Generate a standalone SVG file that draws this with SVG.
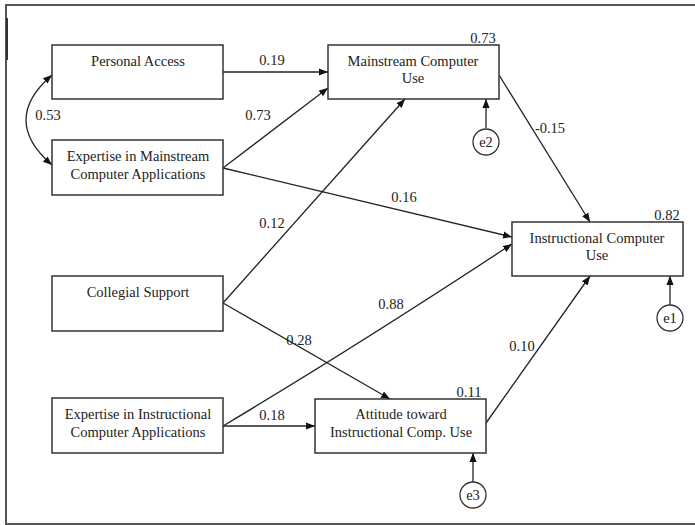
<svg xmlns="http://www.w3.org/2000/svg" width="695" height="525" viewBox="0 0 695 525">
<defs>
<marker id="ah" viewBox="0 0 10 10" refX="10" refY="5" markerWidth="9" markerHeight="9" markerUnits="userSpaceOnUse" orient="auto-start-reverse">
<path d="M0,1 L10,5 L0,9 Z" fill="#111"/>
</marker>
<style>
.box{fill:#fff;stroke:#333;stroke-width:1.5}
.c{fill:#fff;stroke:#333;stroke-width:1.3}
text{font-family:'Liberation Serif','Times New Roman','DejaVu Serif',serif;font-size:14.5px;fill:#222;text-anchor:middle}
.e{stroke:#222;stroke-width:1.3;fill:none;marker-end:url(#ah)}
.frame{stroke:#555;stroke-width:2;fill:none}
</style>
</defs>
<rect width="695" height="525" fill="#fff"/>
<g id="frame">
<path class="frame" d="M695,5 H6 V524 H695"/>
<line x1="7" y1="18" x2="7" y2="60" stroke="#333" stroke-width="2"/>
</g>
<g id="connectors">
<line class="e" x1="223" y1="72" x2="328" y2="72"/>
<line class="e" x1="223" y1="168" x2="328" y2="88"/>
<line class="e" x1="223" y1="168" x2="512" y2="237"/>
<line class="e" x1="223" y1="303" x2="405" y2="99"/>
<line class="e" x1="223" y1="303" x2="390" y2="399"/>
<path class="e" d="M223,426 Q360,344 512,244"/>
<line class="e" x1="223" y1="426" x2="315" y2="426"/>
<line class="e" x1="499" y1="75" x2="590" y2="222"/>
<line class="e" x1="486" y1="423" x2="590" y2="276"/>
<path class="e" d="M52,75 Q0,120 52,165" style="marker-start:url(#ah)"/>
<line class="e" x1="486" y1="128" x2="486" y2="99"/>
<line class="e" x1="670" y1="305" x2="670" y2="276"/>
<line class="e" x1="473" y1="482" x2="473" y2="453"/>
</g>
<g id="labels" font-family="Liberation Serif, serif">
<text x="272" y="65">0.19</text>
<text x="48" y="120">0.53</text>
<text x="258" y="120">0.73</text>
<text x="272" y="228">0.12</text>
<text x="550" y="133">-0.15</text>
<text x="404" y="202">0.16</text>
<text x="299" y="345">0.28</text>
<text x="272" y="420">0.18</text>
<text x="391" y="309">0.88</text>
<text x="522" y="351">0.10</text>
<text x="483" y="43">0.73</text>
<text x="667" y="220">0.82</text>
<text x="469" y="397">0.11</text>
</g>
<g id="personal-access">
<rect class="box" x="52" y="45" width="171" height="54"/>
<text x="138" y="66">Personal Access</text>
</g>
<g id="expertise-mainstream">
<rect class="box" x="52" y="140" width="171" height="55"/>
<text x="138" y="161">Expertise in Mainstream</text>
<text x="138" y="179">Computer Applications</text>
</g>
<g id="collegial-support">
<rect class="box" x="52" y="276" width="171" height="55"/>
<text x="138" y="297">Collegial Support</text>
</g>
<g id="expertise-instructional">
<rect class="box" x="52" y="398" width="171" height="55"/>
<text x="138" y="419">Expertise in Instructional</text>
<text x="138" y="437">Computer Applications</text>
</g>
<g id="mainstream-use">
<rect class="box" x="328" y="45" width="171" height="54"/>
<text x="413" y="66">Mainstream Computer</text>
<text x="413" y="83">Use</text>
</g>
<g id="instructional-use">
<rect class="box" x="512" y="222" width="171" height="54"/>
<text x="597" y="243">Instructional Computer</text>
<text x="597" y="260">Use</text>
</g>
<g id="attitude">
<rect class="box" x="315" y="399" width="171" height="54"/>
<text x="401" y="419">Attitude toward</text>
<text x="401" y="437">Instructional Comp. Use</text>
</g>
<g id="e2">
<circle class="c" cx="486" cy="142" r="13"/>
<text x="486" y="147">e2</text>
</g>
<g id="e1">
<circle class="c" cx="670" cy="318" r="13"/>
<text x="670" y="323">e1</text>
</g>
<g id="e3">
<circle class="c" cx="473" cy="495" r="13"/>
<text x="473" y="500">e3</text>
</g>
</svg>
